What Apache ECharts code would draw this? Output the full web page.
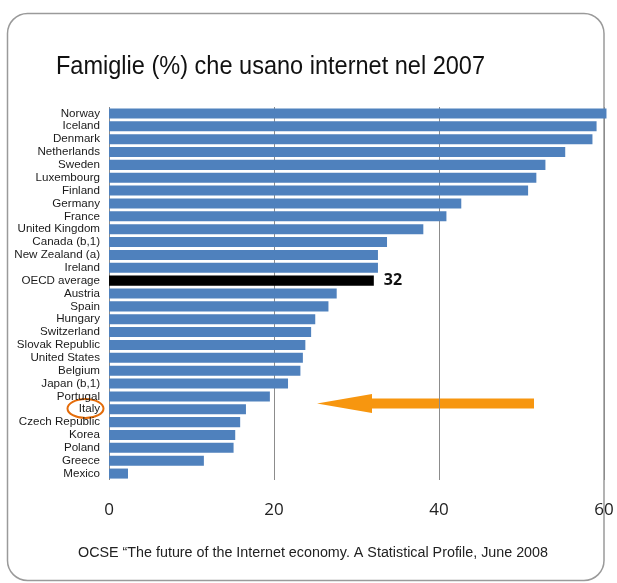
<!DOCTYPE html>
<html><head><meta charset="utf-8">
<script src="https://cdn.jsdelivr.net/npm/echarts@6/dist/echarts.min.js"></script>
<style>html,body{margin:0;padding:0;background:#fff}#c{width:617px;height:583px}</style>
</head><body><div id="c"></div>
<script>
const titleText = 'Famiglie (%) che usano internet nel 2007';
const sourceText = 'OCSE \u201CThe future of the Internet economy. A Statistical Profile, June 2008';
const categories = ['Norway','Iceland','Denmark','Netherlands','Sweden','Luxembourg','Finland','Germany','France','United Kingdom','Canada (b,1)','New Zealand (a)','Ireland','OECD average','Austria','Spain','Hungary','Switzerland','Slovak Republic','United States','Belgium','Japan (b,1)','Portugal','Italy','Czech Republic','Korea','Poland','Greece','Mexico'];
const values = [60.3,59.1,58.6,55.3,52.9,51.8,50.8,42.7,40.9,38.1,33.7,32.6,32.6,32.1,27.6,26.6,25.0,24.5,23.8,23.5,23.2,21.7,19.5,16.6,15.9,15.3,15.1,11.5,2.3];
const highlightCategory = 'OECD average';
const highlightLabel = '32';
const xTickLabels = ['0','20','40','60'];

function fitScale(text, font, target){
  const ctx = document.createElement('canvas').getContext('2d');
  ctx.font = font;
  return target / ctx.measureText(text).width;
}
const titleFont = '25px "Liberation Sans"';
const footFont = '15.5px "Liberation Sans"';

const chart = echarts.init(document.getElementById('c'), null, {renderer:'canvas'});
const data = values.map((v,i) => {
  if (categories[i] === highlightCategory) {
    return {value:v, itemStyle:{color:'#000000'},
      label:{show:true, position:'right', distance:10, formatter:highlightLabel,
        fontFamily:'"Open Sans"', fontWeight:'bold', fontSize:16, color:'#111'}};
  }
  return v;
});

chart.setOption({
  animation:false,
  backgroundColor:'#ffffff',
  grid:{left:109, right:13, top:107, bottom:103, containLabel:false},
  xAxis:{type:'value', min:0, max:60, interval:20,
    axisLine:{show:false}, axisTick:{show:false},
    axisLabel:{margin:22, fontFamily:'"Open Sans"', fontSize:17, color:'#222',
      formatter:(v)=>xTickLabels[Math.round(v/20)]},
    splitLine:{show:true, lineStyle:{color:'#8c8c8c', width:1}}},
  yAxis:{type:'category', data:categories, inverse:true,
    axisLine:{show:false}, axisTick:{show:false},
    axisLabel:{interval:0, margin:9, fontFamily:'"Liberation Sans"', fontSize:11.6, color:'#1a1a1a'}},
  series:[{type:'bar', data:data, barCategoryGap:'22%', clip:false,
    itemStyle:{color:'#4F81BD'}}],
  graphic:[
    {type:'rect', z:-1, shape:{x:7.5, y:13.5, width:596.5, height:567, r:20},
      style:{fill:null, stroke:'#9a9a9a', lineWidth:1.5}},
    {type:'text', x:56, y:67, scaleX:fitScale(titleText, titleFont, 429),
      style:{text:titleText, font:titleFont, fill:'#111', textAlign:'left', textVerticalAlign:'middle', verticalAlign:'middle'}},
    {type:'text', x:313, y:553, scaleX:fitScale(sourceText, footFont, 470),
      style:{text:sourceText, font:footFont, fill:'#222', textAlign:'center', textVerticalAlign:'middle', verticalAlign:'middle'}},
    {type:'polygon', shape:{points:[[534,398.5],[372,398.5],[372,394],[317,403.5],[372,413],[372,408.5],[534,408.5]]},
      style:{fill:'#F7960F', stroke:null}},
    {type:'ellipse', shape:{cx:85.5, cy:408.5, rx:18, ry:9.5},
      style:{fill:null, stroke:'#E46C0A', lineWidth:2}}
  ]
});
</script></body></html>
